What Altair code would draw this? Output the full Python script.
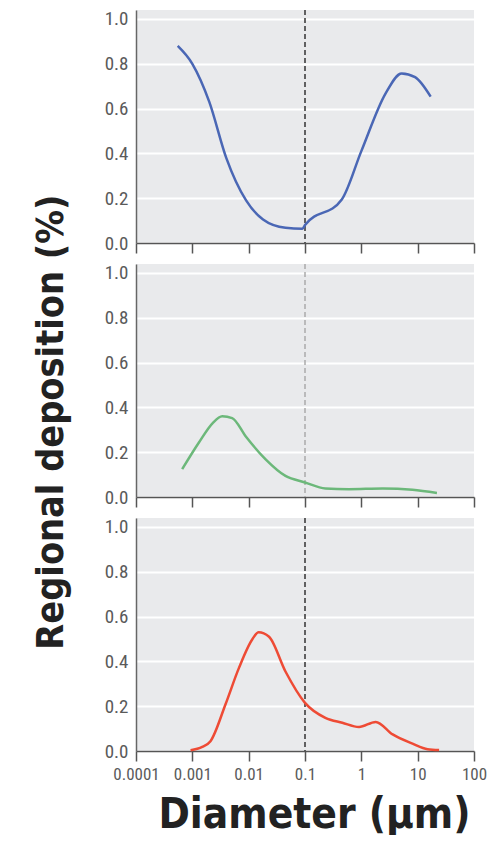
import altair as alt
import pandas as pd

# Diameter (um) and regional deposition values
blue_x = [0.00055, 0.001, 0.002, 0.004, 0.009, 0.018, 0.045, 0.09, 0.1, 0.45, 1.0, 2.7, 5.2, 9, 17]
blue_y = [0.88, 0.80, 0.63, 0.38, 0.19, 0.105, 0.068, 0.064, 0.08, 0.194, 0.41, 0.668, 0.757, 0.74, 0.653]

green_x = [0.00066, 0.0013, 0.0023, 0.0034, 0.0051, 0.0089, 0.02, 0.045, 0.1, 0.23, 0.6, 2.4, 8.1, 22]
green_y = [0.124, 0.242, 0.33, 0.36, 0.352, 0.27, 0.168, 0.094, 0.065, 0.038, 0.035, 0.038, 0.032, 0.018]

red_x = [0.00093, 0.0015, 0.0021, 0.0039, 0.0067, 0.0117, 0.015, 0.023, 0.045, 0.1, 0.23, 0.46, 0.91, 1.8, 3.6, 8.1, 15, 24]
red_y = [0.003, 0.018, 0.044, 0.21, 0.37, 0.50, 0.53, 0.51, 0.355, 0.215, 0.148, 0.126, 0.107, 0.13, 0.074, 0.033, 0.008, 0.004]

x_ticks = [0.0001, 0.001, 0.01, 0.1, 1, 10, 100]
y_ticks = [0.0, 0.2, 0.4, 0.6, 0.8, 1.0]
cutoff = [0.1]

TFONT = "DejaVu Sans Condensed, Liberation Sans Narrow, Roboto Condensed, Roboto, sans-serif"
LFONT = "Roboto Condensed, DejaVu Sans Condensed, Roboto, sans-serif"
W, H = 338, 233


def panel(xs, ys, color, rule_color, bottom=False):
    df = pd.DataFrame({"d": xs, "v": ys})
    xaxis = dict(values=x_ticks, format="~g", grid=False, ticks=True, tickSize=10,
                 tickColor="#555", tickWidth=1.5, domainColor="#555", domainWidth=1.5,
                 labelFont=LFONT, labelFontSize=17, labelColor="#5a5a5a", labelPadding=5,
                 labelFlush=False)
    if bottom:
        xaxis.update(title="Diameter (µm)", titleFont=TFONT, titleFontSize=42,
                     titleFontWeight="bold", titleColor="#222", titleX=178, titleY=76,
                     titleAlign="center", titleBaseline="alphabetic")
    else:
        xaxis.update(labels=False, title=None)
    yaxis = dict(values=y_ticks, format=".1f", grid=True, gridColor="white", gridWidth=2,
                 ticks=False, domainColor="#666", domainWidth=1.5, title=None,
                 labelFont=LFONT, labelFontSize=19, labelColor="#5a5a5a", labelPadding=8)
    x = alt.X("d:Q", scale=alt.Scale(type="log", domain=[0.0001, 100], nice=False),
              axis=alt.Axis(**xaxis))
    y = alt.Y("v:Q", scale=alt.Scale(domain=[0, 1.04], nice=False), axis=alt.Axis(**yaxis))
    line = alt.Chart(df).mark_line(color=color, strokeWidth=2.5, interpolate="monotone").encode(x=x, y=y)
    rule = alt.Chart(pd.DataFrame({"d": cutoff})).mark_rule(
        color=rule_color, strokeDash=[5, 3], strokeWidth=1.5).encode(x=alt.X("d:Q"))
    return alt.layer(rule, line).properties(width=W, height=H)


top = panel(blue_x, blue_y, "#4a67b5", "#333333")
mid = panel(green_x, green_y, "#6cb87a", "#aaaaaa")
bot = panel(red_x, red_y, "#ee4b35", "#333333", bottom=True)

chart = alt.vconcat(top, mid, bot, spacing=9).properties(
    title=alt.TitleParams("Regional deposition (%)", orient="left", anchor="middle",
                          font=TFONT, fontSize=37.5, fontWeight="bold", color="#222",
                          offset=22, dy=-12),
    padding={"left": 24, "top": 1, "right": 0, "bottom": 0},
).configure_view(fill="#e9eaec", strokeWidth=0)

chart.save("out.html", embed_options={"renderer": "svg", "actions": False})
